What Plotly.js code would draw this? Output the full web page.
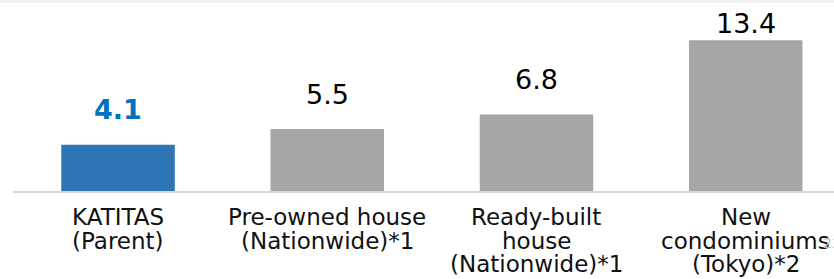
<!DOCTYPE html>
<html><head><meta charset="utf-8">
<script src="https://cdn.plot.ly/plotly-3.0.1.min.js"></script>
<style>
html,body{margin:0;padding:0;background:#f2f2f2;overflow:hidden;width:834px;height:279px}
#chart{margin-top:3px;width:834px;height:276px;background:#fff}
</style>
</head><body><div id="chart"></div>
<script>
// ---- data ----
const categories = ["KATITAS", "Pre-owned house", "Ready-built house", "New condominiums"];
const labelLines = [
  ["KATITAS", "(Parent)"],
  ["Pre-owned house", "(Nationwide)*1"],
  ["Ready-built", "house", "(Nationwide)*1"],
  ["New", "condominiums", "(Tokyo)*2"]
];
const values = [4.1, 5.5, 6.8, 13.4];
const valueLabels = ["4.1", "5.5", "6.8", "13.4"];
const barColors = ["#2e75b6", "#a6a6a6", "#a6a6a6", "#a6a6a6"];
const valueColors = ["#0070c0", "#000000", "#000000", "#000000"];
const valueBold = [true, false, false, false];

// ---- layout constants ----
const W = 834, H = 276;
const M = {l: 13, r: 0, t: 0, b: 88};
const plotH = H - M.t - M.b;
const yMax = 16.7;
const FONT = "DejaVu Sans, Verdana, sans-serif";
const valueGap = 35, topRoom = 20, labelFirst = 26, labelPitch = 23.5;

const annotations = [];
values.forEach((v, i) => {
  const barTopPx = plotH * (1 - v / yMax);
  const shift = Math.min(valueGap, barTopPx - topRoom);
  annotations.push({
    x: categories[i], y: v, xref: "x", yref: "y",
    text: valueBold[i] ? "<b>" + valueLabels[i] + "</b>" : valueLabels[i],
    showarrow: false, yanchor: "middle", xanchor: "center", yshift: shift,
    font: {family: FONT, size: 27, color: valueColors[i]}
  });
});
labelLines.forEach((lines, i) => {
  lines.forEach((t, j) => {
    annotations.push({
      x: categories[i], y: 0, xref: "x", yref: "y",
      text: t, showarrow: false, yanchor: "middle", xanchor: "center",
      yshift: -(labelFirst + j * labelPitch),
      font: {family: FONT, size: 23, color: "#111111"}
    });
  });
});
// faint clipped page number at the right edge
annotations.push({
  x: 0.984, y: -0.275, xref: "paper", yref: "paper", xanchor: "left", yanchor: "middle",
  text: "22", showarrow: false, font: {family: FONT, size: 14, color: "#c0c0c0"}
});

const trace = {
  type: "bar", x: categories, y: values,
  marker: {color: barColors, line: {width: 0}},
  hoverinfo: "none", showlegend: false
};

const layout = {
  width: W, height: H,
  margin: M,
  paper_bgcolor: "#ffffff", plot_bgcolor: "#ffffff",
  bargap: 0.4575,
  xaxis: {
    type: "category", range: [-0.502, 3.422],
    showline: true, linecolor: "#d9d9d9", linewidth: 2,
    showticklabels: false, ticks: "", showgrid: false, zeroline: false, fixedrange: true
  },
  yaxis: {
    range: [0, yMax], visible: false, showgrid: false, zeroline: false, fixedrange: true
  },
  annotations: annotations,
  font: {family: FONT}
};

Plotly.newPlot("chart", [trace], layout, {displayModeBar: false, staticPlot: true});
</script>
</body></html>
